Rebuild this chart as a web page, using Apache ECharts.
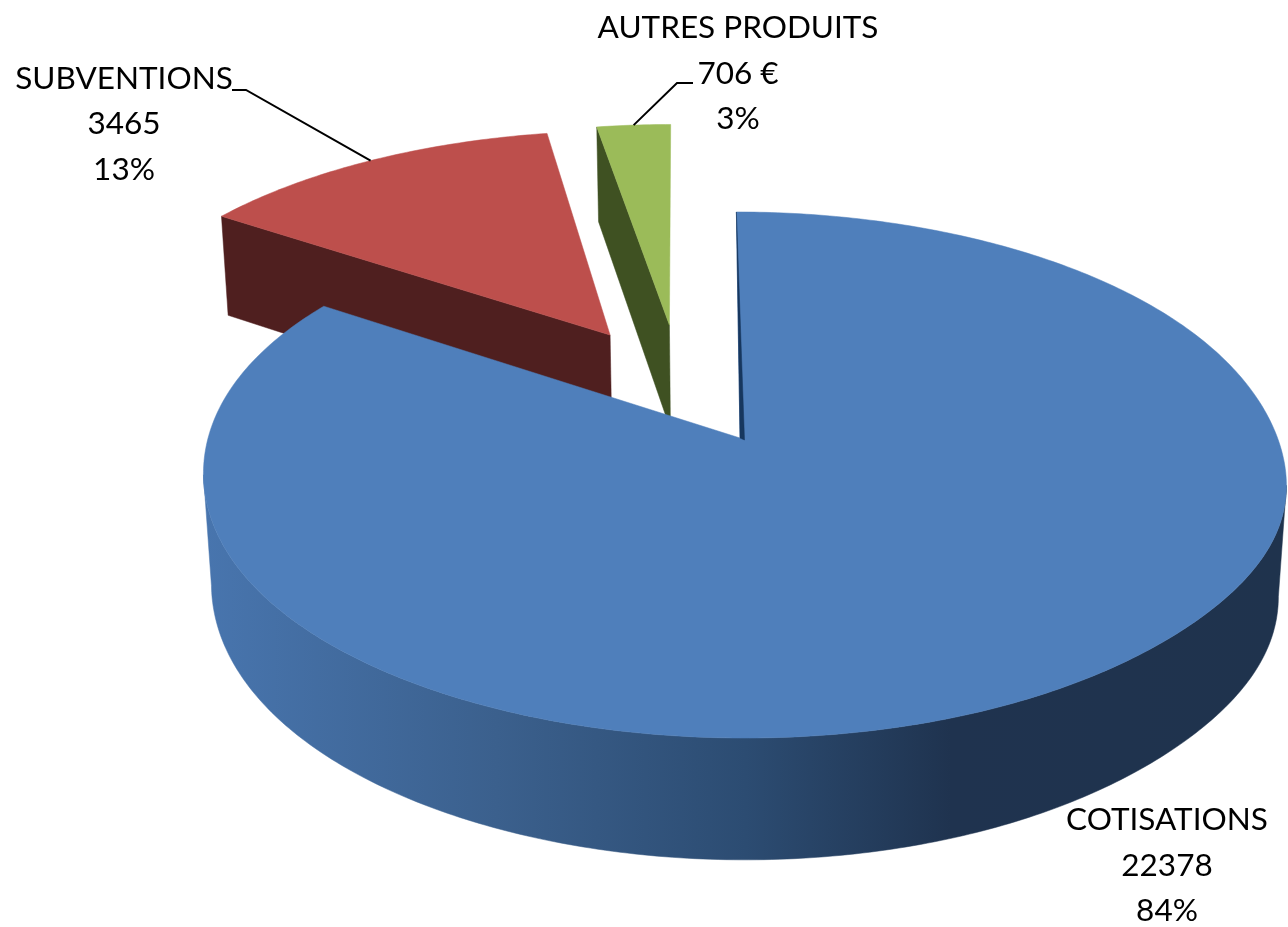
<!DOCTYPE html>
<html>
<head>
<meta charset="utf-8">
<style>html,body{margin:0;padding:0;background:#fff}#c{width:1288px;height:927px}</style>
<script src="https://cdn.jsdelivr.net/npm/echarts@6/dist/echarts.min.js"></script>
</head>
<body>
<div id="c"></div>
<script>
// ---- data ----
const categories = ['COTISATIONS', 'SUBVENTIONS', 'AUTRES PRODUITS'];
const values = [22378, 3465, 706];
const valueLabels = ['22378', '3465', '706 €'];
const percentLabels = ['84%', '13%', '3%'];

// ---- styling / layout ----
const topColors = ['#4F7FBB', '#BD4F4C', '#9BBB59'];
const wallColors = ['#1F3550', '#4F1F1F', '#3F5122'];
const explodeX = [0, -0.254, -0.137];
const explodeY = [0, 0.423, 0.467];
const rimShiftX = [0, 0, -0.008];
const rimScale = [1, 1.008, 1];
const drawRank = [3, 2, 1];
const labelPos = [[1167, 865.5], [124, 124], [738, 73.5]];
const leaderElbow = [null, [[246, 90], [232, 90]], [[677, 83], [693, 83]]];

// perspective of the tilted disc
const P = {d: 535, cx: 740, e: 100, a: -196.2, b: 438, c: 0.1407, depth: 0.01466, vx: 745, vy: 8000};
function project(X, Y, bottom) {
  const w = 1 + P.c * Y;
  const x = (P.d * X + P.cx + P.e * Y) / w;
  const y = (P.a * Y + P.b) / w;
  if (!bottom) return [x, y];
  return [(w * x + P.depth * P.vx) / (w + P.depth), (w * y + P.depth * P.vy) / (w + P.depth)];
}
const total = values.reduce((s, v) => s + v, 0);
const startFrac = values.map((_, i) => values.slice(0, i).reduce((s, v) => s + v, 0) / total);
const deg = Math.PI / 180;
// slight departures of the large disc's rim from a true circle
function rimBulge(t) {
  const a = t / deg;
  return 1 + 0.013 * Math.exp(-Math.pow((a - 110) / 20, 2))
           - 0.006 * Math.exp(-Math.pow((a - 265) / 25, 2));
}

const wallGradient = {
  type: 'linear', x: 204, y: 0, x2: 1287, y2: 0, global: true,
  colorStops: [
    {offset: 0, color: '#4875AE'},
    {offset: 0.27, color: '#3B608D'},
    {offset: 0.5, color: '#2C4C72'},
    {offset: 0.69, color: '#1F334F'},
    {offset: 1, color: '#1F334D'}
  ]
};

function renderSlice(params, api) {
  const i = params.dataIndex;
  const t0 = startFrac[i] * 2 * Math.PI;
  const t1 = t0 + api.value(0) / total * 2 * Math.PI;
  const ox = explodeX[i], oy = explodeY[i];
  const rim = (t, bottom) => {
    const r = rimScale[i] * (i === 0 ? rimBulge(t) : 1);
    return project(ox + rimShiftX[i] + r * Math.sin(t), oy + r * Math.cos(t), bottom);
  };
  const apexTop = project(ox, oy, false), apexBot = project(ox, oy, true);
  const topArc = [], botArc = [];
  const n = Math.max(8, Math.ceil((t1 - t0) * 80));
  for (let k = 0; k <= n; k++) {
    const t = t0 + (t1 - t0) * k / n;
    topArc.push(rim(t, false));
    botArc.push(rim(t, true));
  }
  const z = drawRank[i] * 10;
  const children = [];
  const poly = (points, fill, zz) => children.push({
    type: 'polygon', shape: {points}, z2: zz,
    style: {fill, stroke: fill, lineWidth: 0.5}, silent: true
  });
  if (i === 0) {
    // front of the outer wall: between the rightmost and leftmost rim points,
    // so the polygon's end edges form the straight silhouette of the cylinder
    let kR = 0, kL = 0;
    topArc.forEach((p, k) => {
      if (p[0] > topArc[kR][0]) kR = k;
      if (p[0] < topArc[kL][0]) kL = k;
    });
    poly(topArc.slice(kR, kL + 1).concat(botArc.slice(kR, kL + 1).reverse()), wallGradient, z);
  } else {
    poly([apexTop, topArc[0], botArc[0], apexBot], wallColors[i], z + 2);
  }
  // top surface
  poly([apexTop].concat(topArc), topColors[i], z + 3);
  // dark sliver along the start edge of the large slice
  if (i === 0) {
    poly([topArc[0], apexTop, [apexTop[0] + 4.5, apexTop[1] + 2]], '#17375E', z + 4);
  }
  // label
  children.push({
    type: 'text', z2: 100,
    style: {
      x: labelPos[i][0], y: labelPos[i][1],
      text: [categories[i], valueLabels[i], percentLabels[i]].join('\n'),
      font: '31.5px Lato', lineHeight: 45.5, fill: '#000',
      align: 'center', verticalAlign: 'middle'
    }
  });
  // leader line
  if (leaderElbow[i]) {
    const tm = (t0 + t1) / 2;
    children.push({
      type: 'polyline', z2: 90, silent: true,
      shape: {points: [rim(tm, false)].concat(leaderElbow[i])},
      style: {stroke: '#000', lineWidth: 2, fill: 'none'}
    });
  }
  return {type: 'group', children};
}

const chart = echarts.init(document.getElementById('c'));
chart.setOption({
  backgroundColor: '#fff',
  animation: false,
  series: [{
    type: 'custom',
    coordinateSystem: 'none',
    renderItem: renderSlice,
    data: values.map((v, i) => ({name: categories[i], value: [v]}))
  }]
});
</script>
</body>
</html>
